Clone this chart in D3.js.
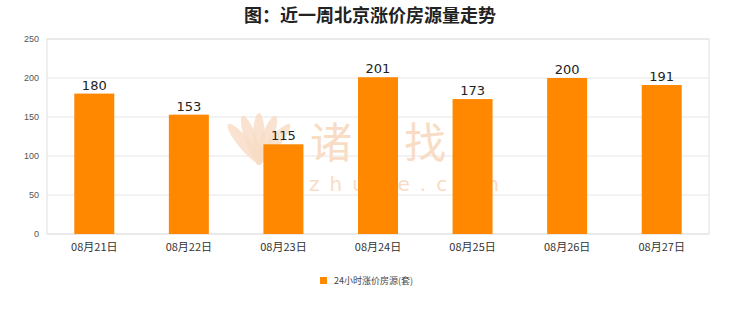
<!DOCTYPE html>
<html>
<head>
<meta charset="utf-8">
<script src="https://cdn.jsdelivr.net/npm/d3@7"></script>
<style>
  body { margin: 0; background: #fff; }
  svg { display: block; }
</style>
</head>
<body>
<svg id="chart" width="740" height="312"></svg>
<script>
// data
const categories = ["08月21日", "08月22日", "08月23日", "08月24日", "08月25日", "08月26日", "08月27日"];
const values = [180, 153, 115, 201, 173, 200, 191];
const yTicks = [0, 50, 100, 150, 200, 250];
const seriesName = "24小时涨价房源(套)";
const title = "图：近一周北京涨价房源量走势";

const width = 740, height = 312;
const margin = {top: 39, right: 31, bottom: 78, left: 47};
const cjk = "'Noto Sans CJK SC', 'Noto Sans', sans-serif";

const svg = d3.select("#chart");

// title
svg.append("text")
  .attr("x", 370)
  .attr("y", 22)
  .attr("text-anchor", "middle")
  .attr("font-family", cjk)
  .attr("font-weight", "bold")
  .attr("font-size", 18)
  .attr("fill", "#222")
  .text(title);

const g = svg.append("g").attr("transform", `translate(${margin.left},${margin.top})`);
const innerW = width - margin.left - margin.right;
const innerH = height - margin.top - margin.bottom;

const x = d3.scaleBand().domain(categories).range([0, innerW]);
const y = d3.scaleLinear().domain([0, 250]).range([innerH, 0]);

// grid lines
g.selectAll(".grid")
  .data(yTicks)
  .enter()
  .append("line")
  .attr("x1", 0)
  .attr("x2", innerW)
  .attr("y1", d => y(d))
  .attr("y2", d => y(d))
  .attr("stroke", "#e6e6e6")
  .attr("stroke-width", 1);

// plot border
g.append("rect")
  .attr("x", 0).attr("y", 0)
  .attr("width", innerW).attr("height", innerH)
  .attr("fill", "none")
  .attr("stroke", "#e0e0e0");

// faint watermark (logo + name), sits behind the bars
const wmColor = "#f8dcc4";
const wm = g.append("g");
const logo = wm.append("g").attr("transform", "translate(212,122)");
[-40, -20, 0, 20, 40].forEach(a => {
  logo.append("ellipse")
    .attr("cx", 0).attr("cy", -22)
    .attr("rx", 6).attr("ry", 26)
    .attr("transform", `rotate(${a})`)
    .attr("fill", wmColor)
    .attr("opacity", 0.8);
});
wm.append("text")
  .attr("x", 263).attr("y", 119)
  .attr("font-family", cjk)
  .attr("font-size", 42)
  .attr("letter-spacing", 5)
  .attr("fill", wmColor)
  .text("诸葛找房");
wm.append("text")
  .attr("x", 262).attr("y", 152)
  .attr("font-family", "'DejaVu Sans', sans-serif")
  .attr("font-size", 20)
  .attr("letter-spacing", 10)
  .attr("fill", wmColor)
  .text("zhuge.com");

// y axis labels
const yAxis = g.append("g")
  .call(d3.axisLeft(y).tickValues(yTicks).tickSize(0).tickPadding(8));
yAxis.select(".domain").remove();
yAxis.selectAll("text")
  .attr("font-family", "'Liberation Sans', Arial, sans-serif")
  .attr("font-size", 9)
  .attr("fill", "#555");

// x axis labels
const xAxis = g.append("g")
  .attr("transform", `translate(0,${innerH})`)
  .call(d3.axisBottom(x).tickSize(0).tickPadding(9));
xAxis.select(".domain").remove();
xAxis.selectAll("text")
  .attr("font-family", cjk)
  .attr("font-size", 11)
  .attr("fill", "#333");

// bars
const barW = 40;
g.selectAll(".bar")
  .data(values)
  .enter()
  .append("rect")
  .attr("class", "bar")
  .attr("x", (d, i) => x(categories[i]) + x.bandwidth() / 2 - barW / 2)
  .attr("y", d => y(d))
  .attr("width", barW)
  .attr("height", d => innerH - y(d))
  .attr("fill", "#ff8800");

// value labels
g.selectAll(".val")
  .data(values)
  .enter()
  .append("text")
  .attr("class", "val")
  .attr("x", (d, i) => x(categories[i]) + x.bandwidth() / 2)
  .attr("y", d => y(d) - 4)
  .attr("text-anchor", "middle")
  .attr("font-family", "'DejaVu Sans', sans-serif")
  .attr("font-size", 13)
  .attr("fill", "#222")
  .text(d => d);

// legend
const legend = svg.append("g").attr("transform", "translate(320,281)");
legend.append("rect")
  .attr("x", 0).attr("y", -4)
  .attr("width", 7).attr("height", 7)
  .attr("fill", "#ff8800");
legend.append("text")
  .attr("x", 14).attr("y", 3)
  .attr("font-family", cjk)
  .attr("font-size", 9)
  .attr("fill", "#444")
  .text(seriesName);
</script>
</body>
</html>
